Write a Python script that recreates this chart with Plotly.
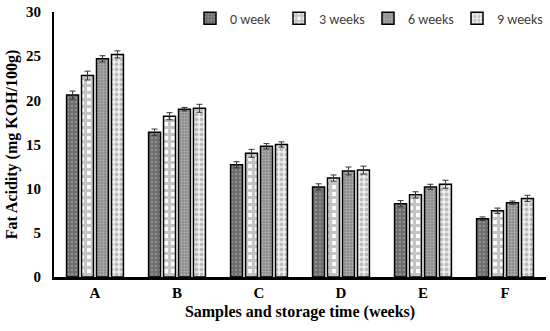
import plotly.graph_objects as go

categories = ["A", "B", "C", "D", "E", "F"]
series_names = ["0 week", "3 weeks", "6 weeks", "9 weeks"]
week0 = [20.6, 16.4, 12.7, 10.2, 8.3, 6.6]
week3 = [22.8, 18.2, 14.0, 11.2, 9.3, 7.5]
week6 = [24.7, 19.0, 14.8, 12.0, 10.2, 8.4]
week9 = [25.2, 19.1, 15.0, 12.1, 10.5, 8.9]
err0 = [0.45, 0.35, 0.35, 0.35, 0.35, 0.2]
err3 = [0.5, 0.4, 0.45, 0.35, 0.35, 0.3]
err6 = [0.35, 0.2, 0.3, 0.45, 0.3, 0.2]
err9 = [0.4, 0.45, 0.3, 0.45, 0.45, 0.35]

values = [week0, week3, week6, week9]
errors = [err0, err3, err6, err9]
patterns = [
    dict(shape=".", bgcolor="#707070", fgcolor="#e8e8e8", size=4, solidity=0.15, fillmode="overlay"),
    dict(shape="+", bgcolor="#ffffff", fgcolor="#8a8a8a", size=7, solidity=0.7, fillmode="overlay"),
    dict(shape=".", bgcolor="#8c8c8c", fgcolor="#e0e0e0", size=3, solidity=0.35, fillmode="overlay"),
    dict(shape=".", bgcolor="#eeeeee", fgcolor="#8a8a8a", size=5, solidity=0.45, fillmode="overlay"),
]

fig = go.Figure()
for name, vals, errs, pat in zip(series_names, values, errors, patterns):
    fig.add_trace(go.Bar(
        x=categories, y=vals, name=name,
        marker=dict(color=pat["bgcolor"], pattern=pat, line=dict(color="#000000", width=1.5)),
        error_y=dict(type="data", array=errs, color="#333333", thickness=1, width=3),
    ))

fig.update_layout(
    width=550, height=331,
    margin=dict(l=54, r=4, t=12, b=54, autoexpand=False),
    paper_bgcolor="white", plot_bgcolor="white",
    barmode="group", bargap=0.27, bargroupgap=0.2,
    font=dict(family="Liberation Serif", color="#000000"),
    legend=dict(orientation="h", x=1.0, xanchor="right", y=1.035, yanchor="top",
                font=dict(family="Carlito, Liberation Sans, sans-serif", size=14, color="#404040"),
                bgcolor="rgba(0,0,0,0)", itemwidth=30, tracegroupgap=0,
                entrywidth=44, entrywidthmode="pixels"),
    showlegend=True,
)
fig.update_xaxes(
    range=[-0.5, 5.5],
    showline=True, linecolor="#000000", linewidth=3, showgrid=False, ticks="", automargin=False,
    tickfont=dict(family="Liberation Serif", size=15, color="#000000", weight="bold"),
    title=dict(text="<b>Samples and storage time (weeks)</b>", font=dict(family="Liberation Serif", size=16), standoff=6),
)
fig.update_yaxes(
    range=[0, 30], tickvals=[0, 5, 10, 15, 20, 25, 30],
    showline=True, linecolor="#000000", linewidth=2, showgrid=False, ticks="", zeroline=False,
    automargin=False, ticklabelstandoff=8,
    tickfont=dict(family="Liberation Serif", size=15, color="#000000", weight="bold"),
    title=dict(text="<b>Fat Acidity (mg KOH/100g)</b>", font=dict(family="Liberation Serif", size=16), standoff=4),
)
fig.write_html("out.html", config={"displayModeBar": False},
               post_script="document.body.style.margin='0';")
